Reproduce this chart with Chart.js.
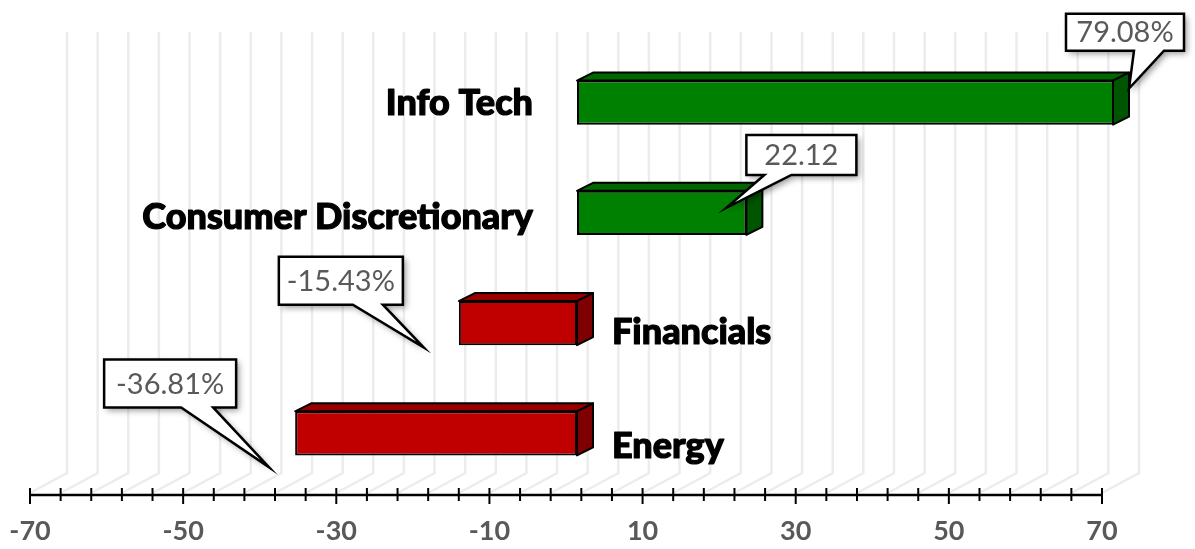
<!DOCTYPE html>
<html>
<head>
<meta charset="utf-8">
<script src="https://cdn.jsdelivr.net/npm/chart.js@4.4.1/dist/chart.umd.min.js"></script>
<style>
  html, body { margin: 0; padding: 0; background: #fff; }
  #wrap { width: 1195px; height: 549px; }
</style>
</head>
<body>
<div id="wrap"><canvas id="chart" width="1195" height="549"></canvas></div>
<script>
// data
const categories = ['Info Tech', 'Consumer Discretionary', 'Financials', 'Energy'];
const values = [79.08, 22.12, -15.43, -36.81];
const valueLabels = ['79.08%', '22.12', '-15.43%', '-36.81%'];
const frontColors = ['#008000', '#008000', '#c00000', '#c00000'];
const topColors = ['#006600', '#006600', '#980000', '#980000'];
const sideColors = ['#005500', '#005500', '#7e0000', '#7e0000'];
const axisMin = -70;
const axisMax = 70;
const tickStep = 4;
const labelStep = 20;

// 3d look of the excel chart
const wallShift = { x: 37, y: -22 };   // back wall vs front axis
const barShift = { x: 11, y: -6.5 };   // bar front face vs front axis
const barDepth = { x: 16, y: -8 };

// callout boxes: tip offset from bar end / centre, box offset from tip
const calloutTips = [
  { dx: 16, dy: -14 },
  { dx: -20, dy: -5 },
  { dx: -35, dy: 24.5 },
  { dx: -26, dy: 34 }
];
const calloutBoxes = [
  { dx: -63, dy: -75, w: 118, h: 37, b0: 68, b1: 98 },
  { dx: 20, dy: -73, w: 110, h: 40, b0: 18, b1: 45 },
  { dx: -145, dy: -91, w: 124, h: 48, b0: 74, b1: 104 },
  { dx: -165, dy: -108, w: 132, h: 48, b0: 77, b1: 109 }
];

function tickValues() {
  const out = [];
  for (let v = axisMin; v <= axisMax; v += tickStep) out.push(v);
  return out;
}

// ---------- plugin: back wall + floor grid, shifted bars ----------
const wallPlugin = {
  id: 'wall',
  beforeDatasetsDraw(chart) {
    const { ctx, chartArea, scales } = chart;
    const x = scales.x;
    ctx.save();
    ctx.strokeStyle = '#ececec';
    ctx.lineWidth = 2.5;
    tickValues().forEach(v => {
      const px = x.getPixelForValue(v);
      ctx.beginPath();
      ctx.moveTo(px, chartArea.bottom - 2);
      ctx.lineTo(px + wallShift.x, chartArea.bottom + wallShift.y);
      ctx.lineTo(px + wallShift.x, chartArea.top + wallShift.y);
      ctx.stroke();
    });
    ctx.restore();

    // bars sit between front axis and back wall
    ctx.save();
    ctx.translate(barShift.x, barShift.y);
  },
  afterDatasetsDraw(chart) {
    const { ctx, chartArea } = chart;
    const meta = chart.getDatasetMeta(0);
    meta.data.forEach((el, i) => {
      const left = Math.min(el.x, el.base);
      const right = Math.min(Math.max(el.x, el.base), chartArea.right);
      const top = el.y - el.height / 2;
      const bottom = el.y + el.height / 2;
      ctx.lineWidth = 2;
      ctx.strokeStyle = '#000';
      ctx.lineJoin = 'round';

      // top face
      ctx.beginPath();
      ctx.moveTo(left, top);
      ctx.lineTo(left + barDepth.x, top + barDepth.y);
      ctx.lineTo(right + barDepth.x, top + barDepth.y);
      ctx.lineTo(right, top);
      ctx.closePath();
      ctx.fillStyle = topColors[i];
      ctx.fill();
      ctx.stroke();

      // right face
      ctx.beginPath();
      ctx.moveTo(right, top);
      ctx.lineTo(right + barDepth.x, top + barDepth.y);
      ctx.lineTo(right + barDepth.x, bottom + barDepth.y);
      ctx.lineTo(right, bottom);
      ctx.closePath();
      ctx.fillStyle = sideColors[i];
      ctx.fill();
      ctx.stroke();
    });
    ctx.restore();
  }
};

// ---------- plugin: axis, category names, callouts ----------
const overlayPlugin = {
  id: 'overlay',
  afterDraw(chart) {
    const { ctx, chartArea, scales } = chart;
    const x = scales.x, y = scales.y;
    const base = chartArea.bottom;

    // value axis with crossing ticks
    ctx.save();
    ctx.strokeStyle = '#000';
    ctx.lineWidth = 2.5;
    ctx.beginPath();
    ctx.moveTo(x.getPixelForValue(axisMin), base);
    ctx.lineTo(x.getPixelForValue(axisMax), base);
    ctx.stroke();
    ctx.lineWidth = 2;
    tickValues().forEach(v => {
      const px = x.getPixelForValue(v);
      const major = (v - axisMin) % labelStep === 0;
      ctx.beginPath();
      ctx.moveTo(px, base - 7);
      ctx.lineTo(px, base + (major ? 9 : 6));
      ctx.stroke();
    });
    ctx.restore();

    // category names next to the zero line (heavy face, thickened a bit)
    const zero = x.getPixelForValue(0);
    ctx.save();
    ctx.fillStyle = '#000';
    ctx.strokeStyle = '#000';
    ctx.lineWidth = 1.2;
    ctx.lineJoin = 'round';
    ctx.font = '900 36px "Lato Black", Lato';
    ctx.textBaseline = 'alphabetic';
    categories.forEach((name, i) => {
      const cy = y.getPixelForValue(i);
      const baseline = cy * 1.038 + 1.4; // slight perspective drift in the original
      let tx;
      if (values[i] >= 0) {
        ctx.textAlign = 'right';
        tx = zero - 33;
      } else {
        ctx.textAlign = 'left';
        tx = zero + 46;
      }
      ctx.fillText(name, tx, baseline);
      ctx.strokeText(name, tx, baseline);
    });
    ctx.restore();

    // callouts
    const meta = chart.getDatasetMeta(0);
    meta.data.forEach((el, i) => {
      const right = Math.min(Math.max(el.x, el.base), chartArea.right);
      const left = Math.min(el.x, el.base);
      const end = (values[i] >= 0 ? right : left) + barShift.x;
      const tipX = end + calloutTips[i].dx;
      const tipY = el.y + barShift.y + calloutTips[i].dy;
      drawCallout(ctx, tipX, tipY, calloutBoxes[i], valueLabels[i]);
    });
  }
};

function drawCallout(ctx, tipX, tipY, b, text) {
  const bx = tipX + b.dx, by = tipY + b.dy;
  ctx.save();
  ctx.beginPath();
  ctx.moveTo(bx, by);
  ctx.lineTo(bx + b.w, by);
  ctx.lineTo(bx + b.w, by + b.h);
  ctx.lineTo(bx + b.b1, by + b.h);
  ctx.lineTo(tipX, tipY);
  ctx.lineTo(bx + b.b0, by + b.h);
  ctx.lineTo(bx, by + b.h);
  ctx.closePath();
  ctx.shadowColor = 'rgba(0,0,0,0.4)';
  ctx.shadowBlur = 6;
  ctx.shadowOffsetX = 3;
  ctx.shadowOffsetY = 3;
  ctx.fillStyle = '#fff';
  ctx.fill();
  ctx.shadowColor = 'transparent';
  ctx.lineWidth = 2.5;
  ctx.lineJoin = 'miter';
  ctx.strokeStyle = '#000';
  ctx.stroke();
  ctx.fillStyle = '#595959';
  ctx.font = '29px Lato';
  ctx.textAlign = 'center';
  ctx.textBaseline = 'middle';
  ctx.fillText(text, bx + b.w / 2, by + b.h / 2 + 1);
  ctx.restore();
}

new Chart(document.getElementById('chart'), {
  type: 'bar',
  data: {
    labels: categories,
    datasets: [{
      data: values,
      backgroundColor: frontColors,
      borderColor: '#000',
      borderWidth: 2,
      borderSkipped: false,
      barPercentage: 0.4,
      categoryPercentage: 1,
      clip: 0
    }]
  },
  options: {
    indexAxis: 'y',
    responsive: false,
    animation: false,
    layout: { padding: { left: 30, right: 93, top: 54, bottom: 0 } },
    plugins: {
      legend: { display: false },
      tooltip: { enabled: false }
    },
    scales: {
      x: {
        min: axisMin,
        max: axisMax,
        grid: { display: false, drawTicks: false },
        border: { display: false },
        afterFit(scale) {
          scale.paddingLeft = 0;
          scale.paddingRight = 0;
          scale.height = 54;
        },
        ticks: {
          stepSize: tickStep,
          autoSkip: false,
          maxRotation: 0,
          padding: 20,
          color: '#595959',
          font: { family: 'Lato', weight: 'bold', size: 27 },
          callback: v => ((v - axisMin) % labelStep === 0 ? String(v) : '')
        }
      },
      y: { display: false }
    }
  },
  plugins: [wallPlugin, overlayPlugin]
});
</script>
</body>
</html>
